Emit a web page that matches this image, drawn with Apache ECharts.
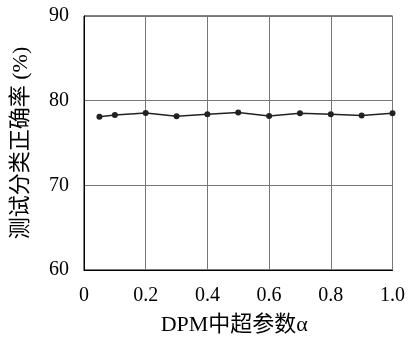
<!DOCTYPE html>
<html><head><meta charset="utf-8">
<script src="https://cdn.jsdelivr.net/npm/echarts@6/dist/echarts.min.js"></script>
<style>html,body{margin:0;padding:0;background:#fff}#c{width:408px;height:341px}</style>
</head><body><div id="c"></div>
<script>
const alphas = [0.05, 0.1, 0.2, 0.3, 0.4, 0.5, 0.6, 0.7, 0.8, 0.9, 1.0];
const accuracy = [78.1, 78.3, 78.55, 78.15, 78.4, 78.6, 78.2, 78.5, 78.4, 78.25, 78.5];
const xTicks = [0, 0.2, 0.4, 0.6, 0.8, 1.0];
const yTicks = [60, 70, 80, 90];
const FONT = '"Liberation Serif","DejaVu Serif","Noto Sans CJK SC",serif';
const chart = echarts.init(document.getElementById('c'));
chart.setOption({
  animation: false,
  grid: {left: 84, right: 14, top: 16, bottom: 70, show: true, borderColor: '#000', borderWidth: 1},
  xAxis: {
    type: 'value', min: 0, max: 1, interval: 0.2,
    name: 'DPM中超参数α', nameLocation: 'middle', nameGap: 44,
    nameTextStyle: {fontFamily: FONT, fontSize: 22, color: '#000', padding: [0, 8, 0, 0]},
    axisLine: {show: true, lineStyle: {color: '#000'}},
    axisTick: {show: false},
    axisLabel: {fontFamily: FONT, fontSize: 20, color: '#000', margin: 16,
      formatter: v => v === 0 ? '0' : v.toFixed(1)},
    splitLine: {show: true, lineStyle: {color: '#777', width: 1}}
  },
  yAxis: {
    type: 'value', min: 60, max: 90, interval: 10,
    name: '测试分类正确率 (%)', nameLocation: 'middle', nameGap: 52,
    nameTextStyle: {fontFamily: FONT, fontSize: 22, color: '#000'},
    axisLine: {show: true, lineStyle: {color: '#000'}},
    axisTick: {show: false},
    axisLabel: {fontFamily: FONT, fontSize: 20, color: '#000', margin: 15},
    splitLine: {show: true, lineStyle: {color: '#777', width: 1}}
  },
  series: [{
    type: 'line',
    data: alphas.map((a, i) => [a, accuracy[i]]),
    symbol: 'circle', symbolSize: 6,
    lineStyle: {color: '#222', width: 1.5},
    itemStyle: {color: '#222'}
  }]
});
</script></body></html>
